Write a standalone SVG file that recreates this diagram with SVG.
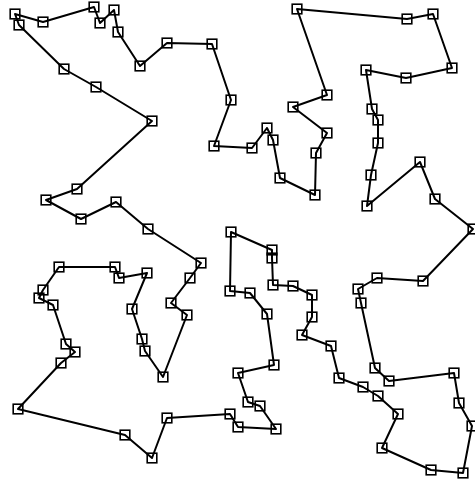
<svg xmlns="http://www.w3.org/2000/svg" xmlns:xlink="http://www.w3.org/1999/xlink" width="475" height="485" viewBox="0 0 475 485">
<style>
.tour{fill:none;stroke:#000;stroke-width:2;stroke-linejoin:round}
.n{fill:none;stroke:#000;stroke-width:1.6}
</style>
<defs><rect id="sq" x="-4.8" y="-4.8" width="9.6" height="9.6"/></defs>
<rect width="475" height="485" fill="#fff"/>
<g id="connectors">
<polygon class="tour" points="201,263 190,278 171,303 187,315 163,377 145,351 142,339 132,309 147,273 119,278 115,267 59,267 43,290 39,298 53,305 66,344 75,352 61,363 18,409 125,435 152,458 167,418 230,414 238,427 276,429 260,406 248,402 238,373 274,365 267,314 250,293 230,291 231,232 272,250 272,258 273,285 293,286 312,295 312,317 302,335 331,346 339,378 363,387 378,396 398,414 382,448 431,470 463,473 472,426 459,403 454,373 389,381 375,368 361,303 358,289 377,278 423,281 473,229 435,199 420,162 367,206 371,175 378,143 378,120 372,109 366,70 406,78 452,68 433,14 407,19 297,9 327,95 293,107 327,133 316,153 315,195 280,178 273,140 267,128 252,148 214,146 231,100 212,44 167,43 140,66 118,32 114,10 100,23 94,7 43,22 15,14 19,25 64,69 96,87 152,121 77,189 46,200 81,219 116,202 148,229"/>
</g>
<g id="nodes" class="n">
<g id="n1"><use xlink:href="#sq" x="201" y="263"/></g>
<g id="n2"><use xlink:href="#sq" x="190" y="278"/></g>
<g id="n3"><use xlink:href="#sq" x="171" y="303"/></g>
<g id="n4"><use xlink:href="#sq" x="187" y="315"/></g>
<g id="n5"><use xlink:href="#sq" x="163" y="377"/></g>
<g id="n6"><use xlink:href="#sq" x="145" y="351"/></g>
<g id="n7"><use xlink:href="#sq" x="142" y="339"/></g>
<g id="n8"><use xlink:href="#sq" x="132" y="309"/></g>
<g id="n9"><use xlink:href="#sq" x="147" y="273"/></g>
<g id="n10"><use xlink:href="#sq" x="119" y="278"/></g>
<g id="n11"><use xlink:href="#sq" x="115" y="267"/></g>
<g id="n12"><use xlink:href="#sq" x="59" y="267"/></g>
<g id="n13"><use xlink:href="#sq" x="43" y="290"/></g>
<g id="n14"><use xlink:href="#sq" x="39" y="298"/></g>
<g id="n15"><use xlink:href="#sq" x="53" y="305"/></g>
<g id="n16"><use xlink:href="#sq" x="66" y="344"/></g>
<g id="n17"><use xlink:href="#sq" x="75" y="352"/></g>
<g id="n18"><use xlink:href="#sq" x="61" y="363"/></g>
<g id="n19"><use xlink:href="#sq" x="18" y="409"/></g>
<g id="n20"><use xlink:href="#sq" x="125" y="435"/></g>
<g id="n21"><use xlink:href="#sq" x="152" y="458"/></g>
<g id="n22"><use xlink:href="#sq" x="167" y="418"/></g>
<g id="n23"><use xlink:href="#sq" x="230" y="414"/></g>
<g id="n24"><use xlink:href="#sq" x="238" y="427"/></g>
<g id="n25"><use xlink:href="#sq" x="276" y="429"/></g>
<g id="n26"><use xlink:href="#sq" x="260" y="406"/></g>
<g id="n27"><use xlink:href="#sq" x="248" y="402"/></g>
<g id="n28"><use xlink:href="#sq" x="238" y="373"/></g>
<g id="n29"><use xlink:href="#sq" x="274" y="365"/></g>
<g id="n30"><use xlink:href="#sq" x="267" y="314"/></g>
<g id="n31"><use xlink:href="#sq" x="250" y="293"/></g>
<g id="n32"><use xlink:href="#sq" x="230" y="291"/></g>
<g id="n33"><use xlink:href="#sq" x="231" y="232"/></g>
<g id="n34"><use xlink:href="#sq" x="272" y="250"/></g>
<g id="n35"><use xlink:href="#sq" x="272" y="258"/></g>
<g id="n36"><use xlink:href="#sq" x="273" y="285"/></g>
<g id="n37"><use xlink:href="#sq" x="293" y="286"/></g>
<g id="n38"><use xlink:href="#sq" x="312" y="295"/></g>
<g id="n39"><use xlink:href="#sq" x="312" y="317"/></g>
<g id="n40"><use xlink:href="#sq" x="302" y="335"/></g>
<g id="n41"><use xlink:href="#sq" x="331" y="346"/></g>
<g id="n42"><use xlink:href="#sq" x="339" y="378"/></g>
<g id="n43"><use xlink:href="#sq" x="363" y="387"/></g>
<g id="n44"><use xlink:href="#sq" x="378" y="396"/></g>
<g id="n45"><use xlink:href="#sq" x="398" y="414"/></g>
<g id="n46"><use xlink:href="#sq" x="382" y="448"/></g>
<g id="n47"><use xlink:href="#sq" x="431" y="470"/></g>
<g id="n48"><use xlink:href="#sq" x="463" y="473"/></g>
<g id="n49"><use xlink:href="#sq" x="472" y="426"/></g>
<g id="n50"><use xlink:href="#sq" x="459" y="403"/></g>
<g id="n51"><use xlink:href="#sq" x="454" y="373"/></g>
<g id="n52"><use xlink:href="#sq" x="389" y="381"/></g>
<g id="n53"><use xlink:href="#sq" x="375" y="368"/></g>
<g id="n54"><use xlink:href="#sq" x="361" y="303"/></g>
<g id="n55"><use xlink:href="#sq" x="358" y="289"/></g>
<g id="n56"><use xlink:href="#sq" x="377" y="278"/></g>
<g id="n57"><use xlink:href="#sq" x="423" y="281"/></g>
<g id="n58"><use xlink:href="#sq" x="473" y="229"/></g>
<g id="n59"><use xlink:href="#sq" x="435" y="199"/></g>
<g id="n60"><use xlink:href="#sq" x="420" y="162"/></g>
<g id="n61"><use xlink:href="#sq" x="367" y="206"/></g>
<g id="n62"><use xlink:href="#sq" x="371" y="175"/></g>
<g id="n63"><use xlink:href="#sq" x="378" y="143"/></g>
<g id="n64"><use xlink:href="#sq" x="378" y="120"/></g>
<g id="n65"><use xlink:href="#sq" x="372" y="109"/></g>
<g id="n66"><use xlink:href="#sq" x="366" y="70"/></g>
<g id="n67"><use xlink:href="#sq" x="406" y="78"/></g>
<g id="n68"><use xlink:href="#sq" x="452" y="68"/></g>
<g id="n69"><use xlink:href="#sq" x="433" y="14"/></g>
<g id="n70"><use xlink:href="#sq" x="407" y="19"/></g>
<g id="n71"><use xlink:href="#sq" x="297" y="9"/></g>
<g id="n72"><use xlink:href="#sq" x="327" y="95"/></g>
<g id="n73"><use xlink:href="#sq" x="293" y="107"/></g>
<g id="n74"><use xlink:href="#sq" x="327" y="133"/></g>
<g id="n75"><use xlink:href="#sq" x="316" y="153"/></g>
<g id="n76"><use xlink:href="#sq" x="315" y="195"/></g>
<g id="n77"><use xlink:href="#sq" x="280" y="178"/></g>
<g id="n78"><use xlink:href="#sq" x="273" y="140"/></g>
<g id="n79"><use xlink:href="#sq" x="267" y="128"/></g>
<g id="n80"><use xlink:href="#sq" x="252" y="148"/></g>
<g id="n81"><use xlink:href="#sq" x="214" y="146"/></g>
<g id="n82"><use xlink:href="#sq" x="231" y="100"/></g>
<g id="n83"><use xlink:href="#sq" x="212" y="44"/></g>
<g id="n84"><use xlink:href="#sq" x="167" y="43"/></g>
<g id="n85"><use xlink:href="#sq" x="140" y="66"/></g>
<g id="n86"><use xlink:href="#sq" x="118" y="32"/></g>
<g id="n87"><use xlink:href="#sq" x="114" y="10"/></g>
<g id="n88"><use xlink:href="#sq" x="100" y="23"/></g>
<g id="n89"><use xlink:href="#sq" x="94" y="7"/></g>
<g id="n90"><use xlink:href="#sq" x="43" y="22"/></g>
<g id="n91"><use xlink:href="#sq" x="15" y="14"/></g>
<g id="n92"><use xlink:href="#sq" x="19" y="25"/></g>
<g id="n93"><use xlink:href="#sq" x="64" y="69"/></g>
<g id="n94"><use xlink:href="#sq" x="96" y="87"/></g>
<g id="n95"><use xlink:href="#sq" x="152" y="121"/></g>
<g id="n96"><use xlink:href="#sq" x="77" y="189"/></g>
<g id="n97"><use xlink:href="#sq" x="46" y="200"/></g>
<g id="n98"><use xlink:href="#sq" x="81" y="219"/></g>
<g id="n99"><use xlink:href="#sq" x="116" y="202"/></g>
<g id="n100"><use xlink:href="#sq" x="148" y="229"/></g>
</g>
</svg>
